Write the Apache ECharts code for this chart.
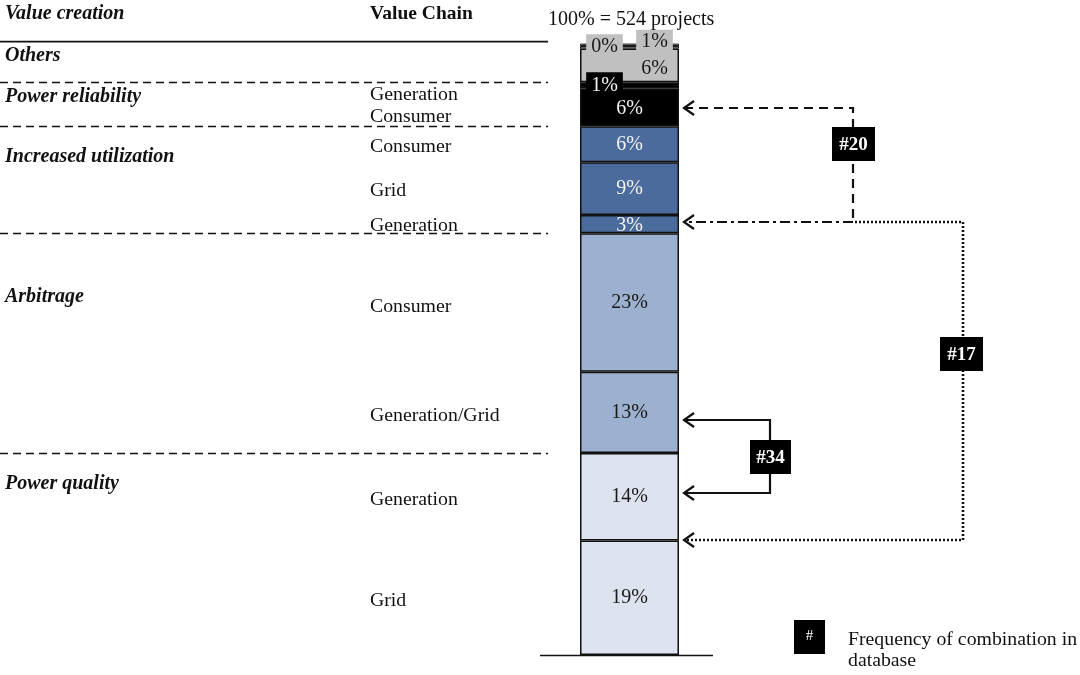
<!DOCTYPE html>
<html><head><meta charset="utf-8">
<script src="https://cdn.jsdelivr.net/npm/echarts@6/dist/echarts.min.js"></script>
<style>html,body{margin:0;padding:0;background:#fff}#c{width:1080px;height:675px}</style>
</head><body><div id="c"></div>
<script>
// bottom -> top
const valueCreation = ['Power quality','Power quality','Arbitrage','Arbitrage','Increased utilization','Increased utilization','Increased utilization','Power reliability','Power reliability','Others','Others','Others'];
const valueChain = ['Grid','Generation','Generation/Grid','Consumer','Generation','Grid','Consumer','Consumer','Generation','','',''];
const shares = [18.7,14.3,13.3,22.6,3.0,8.6,5.9,6.2,1.0,5.5,0.4,0.4];
const shareLabels = ['19%','14%','13%','23%','3%','9%','6%','6%','1%','6%','1%','0%'];
const groupsTopDown = ['Others','Power reliability','Increased utilization','Arbitrage','Power quality'];
const headerCreation = 'Value creation';
const headerChain = 'Value Chain';
const totalLabel = '100% = 524 projects';
const combos = [{tag:'#20'},{tag:'#17'},{tag:'#34'}];
const legendTag = '#';
const legendText = ['Frequency of combination in','database'];

const SERIF = '"Liberation Serif","Times New Roman",serif';
const groupColor = {
  'Power quality':'#dde4ef','Arbitrage':'#9cb0cf','Increased utilization':'#4a6b9b',
  'Power reliability':'#000000','Others':'#c0c0c0'
};
const groupText = {
  'Power quality':'#1a1a1a','Arbitrage':'#1a1a1a','Increased utilization':'#f2f2f2',
  'Power reliability':'#f2f2f2','Others':'#1a1a1a'
};
// label tweaks per segment index (layout only)
const labelTweak = {
  4:{offset:[0,2]},
  7:{offset:[0,1]},
  8:{offset:[-25,1],backgroundColor:'#000',padding:[6,5,2,5]},
  9:{offset:[25,3]},
  10:{offset:[25,-5.5],backgroundColor:'#c0c0c0',padding:[2,5,2,5]},
  11:{offset:[-25,2],backgroundColor:'#c0c0c0',padding:[3,5,2,5]}
};

const chart = echarts.init(document.getElementById('c'));
const series = shares.map((v,i)=>{
  const g = valueCreation[i];
  const t = labelTweak[i]||{};
  return {
    type:'bar', stack:'all', barWidth:99, silent:true,
    data:[v],
    itemStyle:{color:groupColor[g], borderColor:'#111', borderWidth: i>=10 ? 1 : 1.5},
    label:Object.assign({show:true, position:'inside', formatter:shareLabels[i],
      color:groupText[g], fontFamily:SERIF, fontSize:20}, t),
    z: i>=8 ? 3 : 2
  };
});
chart.setOption({
  animation:false,
  grid:{left:580, right:401, top:43, bottom:20},
  xAxis:{type:'category', data:['all'], show:false},
  yAxis:{type:'value', min:0, max:100, show:false},
  series
});

const Y = v => chart.convertToPixel({yAxisIndex:0}, v);
const cum = []; let s = 0; shares.forEach(v=>{cum.push([s, s+v]); s+=v;});
const G = [];
const DY = 2;
const txt = (t,x,y,font,opt={}) => G.push({type:'text', silent:true, z:10, style:Object.assign({
  text:t, x, y:y+DY, font, fill:'#111', align:'left', verticalAlign:'middle', textAlign:'left', textVerticalAlign:'middle'}, opt)});
const line = (x1,y1,x2,y2,w,dash) => G.push({type:'line', silent:true, z:5, shape:{x1,y1,x2,y2}, style:{stroke:'#111', lineWidth:w, lineDash:dash||null}});
const pl = (pts,w,dash) => G.push({type:'polyline', silent:true, z:5, shape:{points:pts}, style:{stroke:'#111', lineWidth:w, fill:null, lineDash:dash||null, lineJoin:'miter'}});
const head = (x,y) => pl([[x+11,y-7],[x+1,y],[x+11,y+7]],2.2);
const box = (t,x,y,w,h) => {
  G.push({type:'rect', silent:true, z:8, shape:{x,y,width:w,height:h}, style:{fill:'#000'}});
  txt(t, x+w/2, y+h/2-1, 'bold 19px '+SERIF, {fill:'#fff', align:'center', textAlign:'center'});
};

// headers
txt(headerCreation, 5, 12, 'italic bold 20px '+SERIF);
txt(headerChain, 370, 12, 'bold 19.5px '+SERIF);
txt(totalLabel, 548, 18, '20px '+SERIF);
// top solid rule & group separators
line(0, Y(s)-2, 548, Y(s)-2, 1.6);
for (let i=1;i<shares.length;i++){
  if (valueCreation[i]!==valueCreation[i-1]){
    const y = Math.round(Y(cum[i][0]))+0.5;
    line(0, y, 548, y, 1.4, [8,5]);
  }
}
// group labels
const groupY = {'Others':54,'Power reliability':95,'Increased utilization':155,'Arbitrage':295,'Power quality':482};
groupsTopDown.forEach(g=>txt(g, 5, groupY[g], 'italic bold 20px '+SERIF));
// value chain labels at segment centres
const chainNudge = {7:8, 8:8, 0:1, 1:1, 2:1, 3:2, 6:1};
valueChain.forEach((c,i)=>{
  if(!c) return;
  const y = (Y(cum[i][0])+Y(cum[i][1]))/2 + (chainNudge[i]||0);
  txt(c, 370, y, '19.8px '+SERIF);
});
// baseline
line(540, 655.5, 713, 655.5, 1.6);

// #20 (dashed + dash-dot)
pl([[684,108],[853,108],[853,222]],2.2,[9,6]);
head(683,108);
line(853,222,686,222,2.2,[10,4,3,4]);
head(683,222);
box(combos[0].tag, 832,127,43,34);
// #17 (dotted)
pl([[855,222],[963,222],[963,540],[686,540]],2.6,[2,2]);
head(683,540);
box(combos[1].tag, 940,337,43,34);
// #34 (solid)
pl([[686,420],[770,420],[770,493],[686,493]],2.2);
head(683,420);
head(683,493);
box(combos[2].tag, 750,440,41,34);
// legend
G.push({type:'rect', silent:true, z:8, shape:{x:794,y:620,width:31,height:34}, style:{fill:'#000'}});
txt(legendTag, 809.5, 634, '15px '+SERIF, {fill:'#fff', align:'center', textAlign:'center'});
txt(legendText[0], 848, 638, '19.8px '+SERIF);
txt(legendText[1], 848, 659, '19.8px '+SERIF);

chart.setOption({graphic:G});
</script></body></html>
